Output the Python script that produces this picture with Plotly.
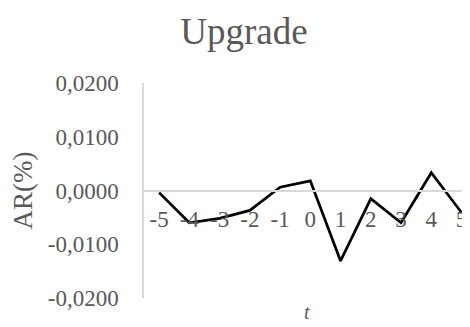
import plotly.graph_objects as go

t_values = [-5, -4, -3, -2, -1, 0, 1, 2, 3, 4, 5]
ar_values = [-0.0004, -0.0060, -0.0052, -0.0037, 0.0006, 0.0018, -0.0131, -0.0015, -0.0060, 0.0033, -0.0041]
x_tick_labels = [str(v) for v in t_values]
y_tick_vals = [-0.02, -0.01, 0.0, 0.01, 0.02]
y_tick_labels = ["-0,0200", "-0,0100", "0,0000", "0,0100", "0,0200"]

GRAY = "#595959"
LINE = "#d9d9d9"
FONT = "Liberation Serif"

fig = go.Figure()
fig.add_trace(go.Scatter(x=t_values, y=ar_values, mode="lines",
                         line=dict(color="black", width=2.75), showlegend=False))

W, H = 462, 319
fig.update_layout(
    width=W, height=H,
    margin=dict(l=136, r=0, t=75, b=29),
    paper_bgcolor="white", plot_bgcolor="white",
    font=dict(family=FONT, color=GRAY, size=23),
    title=dict(text="Upgrade", x=236/W, xanchor="center", y=1-23/H, yanchor="middle",
               font=dict(family=FONT, size=37, color=GRAY)),
    xaxis=dict(range=[-5.5, 5.28], tickvals=t_values, ticktext=x_tick_labels,
               showgrid=False, zeroline=False, showline=True, linecolor=LINE, linewidth=1.5,
               anchor="free", position=0.5, ticks="outside", ticklen=8,
               tickcolor="rgba(0,0,0,0)", tickfont=dict(size=23, color=GRAY, family=FONT)),
    yaxis=dict(range=[-0.02, 0.02], tickvals=y_tick_vals, ticktext=y_tick_labels,
               showgrid=False, zeroline=False, showline=True, linecolor=LINE, linewidth=1.5,
               ticks="outside", ticklen=19, tickcolor="rgba(0,0,0,0)",
               tickfont=dict(size=23, color=GRAY, family=FONT),
               title=dict(text="AR(%)", font=dict(size=27, color=GRAY, family=FONT), standoff=8)),
    annotations=[dict(text="<i>t</i>", x=0.5, xref="paper", y=0.0, yref="paper",
                      yshift=-14, showarrow=False, xanchor="center", yanchor="middle",
                      font=dict(size=20, color=GRAY, family=FONT))],
)

fig.write_html("out.html")
